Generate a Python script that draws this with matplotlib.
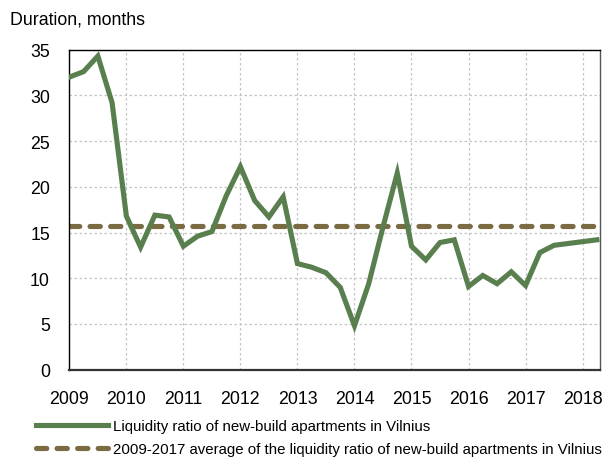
import matplotlib
matplotlib.use("Agg")
import matplotlib.pyplot as plt
import numpy as np

# Quarterly data 2009Q1 .. 2018Q2
years_start = 2009
liquidity = [32.0, 32.6, 34.3, 29.2,
             16.8, 13.4, 16.9, 16.7,
             13.5, 14.6, 15.1, 19.0,
             22.2, 18.5, 16.7, 18.9,
             11.6, 11.2, 10.6, 9.0,
             4.8, 9.4, 15.6, 21.5,
             13.5, 12.0, 13.9, 14.2,
             9.1, 10.3, 9.4, 10.7,
             9.2, 12.8, 13.6, 13.8,
             14.0, 14.2]
average_value = 15.7
year_ticks = list(range(2009, 2019))
y_ticks = [0, 5, 10, 15, 20, 25, 30, 35]

label_line = "Liquidity ratio of new-build apartments in Vilnius"
label_avg = "2009-2017 average of the liquidity ratio of new-build apartments in Vilnius"

plt.rcParams['font.family'] = ['Liberation Sans', 'DejaVu Sans']

x = years_start + np.arange(len(liquidity)) * 0.25

fig = plt.figure(figsize=(6.14, 4.6), dpi=100)
ax = fig.add_axes([0.1129, 0.1943, 0.9767 - 0.1129, 0.8898 - 0.1943])

green = '#5a7f4f'
brown = '#7b6b42'

l1, = ax.plot(x, liquidity, color=green, lw=3.7, solid_joinstyle='miter', zorder=3,
              label=label_line)
l2, = ax.plot([x[0], x[-1]], [average_value, average_value], color=brown, lw=3.7,
              dashes=(2.0, 2.0), dash_capstyle='round', zorder=2, label=label_avg)

ax.set_xlim(2009, 2018.3)
ax.set_ylim(0, 35)
ax.set_xticks(year_ticks)
ax.set_yticks(y_ticks)
ax.tick_params(axis='both', length=0, labelsize=12.8)
ax.tick_params(axis='y', pad=14)
ax.tick_params(axis='x', pad=15)
ax.grid(True, color='#c4c4c4', linestyle=(0, (2, 2)), lw=0.9)
ax.set_axisbelow(True)
for s in ax.spines.values():
    s.set_color('black')
    s.set_linewidth(1.0)
ax.spines['bottom'].set_color('#333333')
ax.spines['bottom'].set_linewidth(1.6)
ax.spines['right'].set_color('#555555')

fig.text(10 / 614, 1 - 20 / 460, "Duration, months", fontsize=12.8, va='center', ha='left')

leg = fig.legend(handles=[l1, l2], loc='upper left', bbox_to_anchor=(36 / 614, 1 - 420 / 460),
                 frameon=False, fontsize=10.8, handlelength=4.8, handletextpad=0.35,
                 labelspacing=0.62, borderpad=0, borderaxespad=0)

fig.savefig("out.png", dpi=100)
